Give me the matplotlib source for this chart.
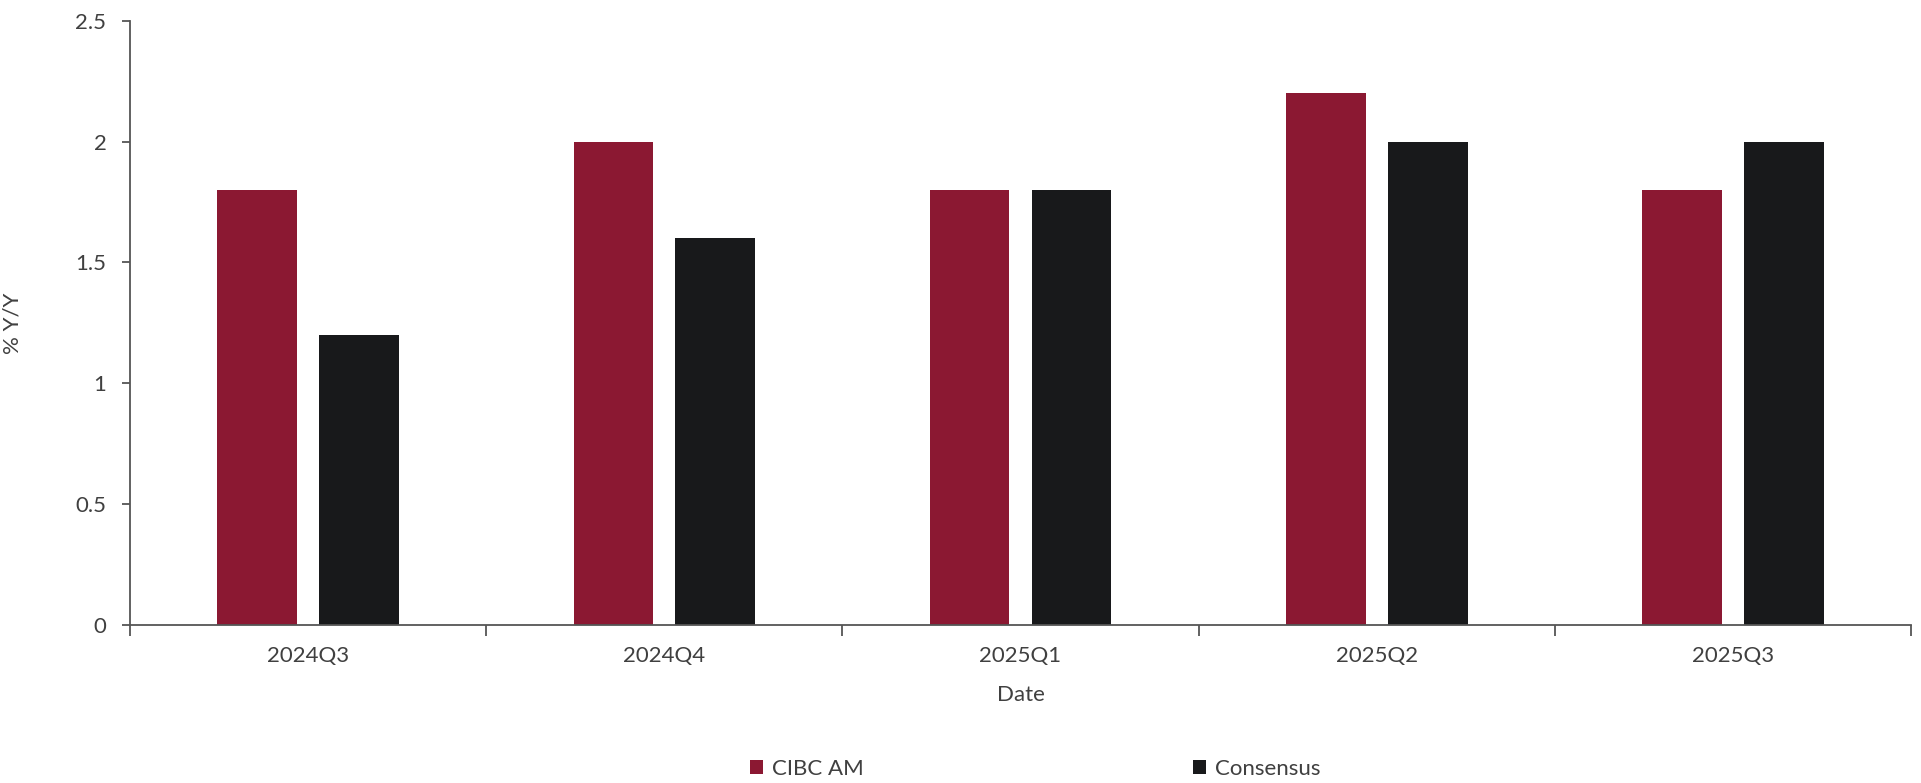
import matplotlib.pyplot as plt
import numpy as np

quarters = ["2024Q3", "2024Q4", "2025Q1", "2025Q2", "2025Q3"]
cibc_am = [1.8, 2.0, 1.8, 2.2, 1.8]
consensus = [1.2, 1.6, 1.8, 2.0, 2.0]
series_names = ["CIBC AM", "Consensus"]

red = "#8B1832"
black = "#18191B"
txt = "#404040"
axis_col = "#555555"

plt.rcParams['font.family'] = ['Lato', 'DejaVu Sans']

fig = plt.figure(figsize=(19.21, 7.83), dpi=100)
ax = fig.add_axes([0.0677, 0.202, 0.9271, 0.7714])

x = np.arange(len(quarters))
w = 0.224
ax.bar(x - 0.143, cibc_am, w, color=red, label=series_names[0])
ax.bar(x + 0.143, consensus, w, color=black, label=series_names[1])

ax.set_xlim(-0.5, len(quarters) - 0.5)
ax.set_ylim(0, 2.5)
ax.set_yticks([0, 0.5, 1, 1.5, 2, 2.5])
ax.set_yticklabels(["0", "0.5", "1", "1.5", "2", "2.5"])

# boundaries as major ticks, labels on minor ticks at centers
ax.set_xticks(np.arange(len(quarters) + 1) - 0.5)
ax.set_xticklabels([])
ax.set_xticks(x, minor=True)
ax.set_xticklabels(quarters, minor=True)
ax.tick_params(axis='x', which='major', length=8, width=1.3, color=axis_col)
ax.tick_params(axis='x', which='minor', length=0, pad=15, labelsize=16, labelcolor=txt)
ax.tick_params(axis='y', length=6, width=1.3, color=axis_col, pad=11, labelsize=16, labelcolor=txt)

for s in ["top", "right"]:
    ax.spines[s].set_visible(False)
for s in ["left", "bottom"]:
    ax.spines[s].set_color(axis_col)
    ax.spines[s].set_linewidth(1.3)

ax.set_xlabel("Date", fontsize=16, color=txt, labelpad=14)
ax.set_ylabel("% Y/Y", fontsize=16, color=txt)
ax.yaxis.set_label_coords(-0.0606, 0.5)

fig.legend(loc='center', bbox_to_anchor=(0.539, 0.018), ncol=2, frameon=False,
           fontsize=16, labelcolor=txt, handlelength=0.6, handleheight=0.6,
           handletextpad=0.4, columnspacing=14.8)

fig.savefig("out.png", dpi=100)
